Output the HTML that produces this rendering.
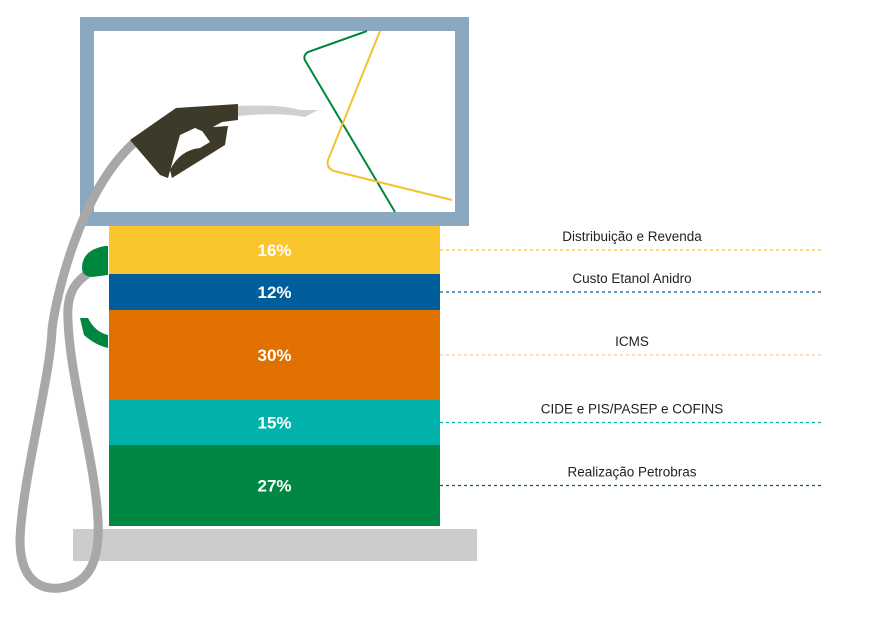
<!DOCTYPE html>
<html><head><meta charset="utf-8"><style>
body{margin:0;background:#fff;width:888px;height:624px;overflow:hidden;font-family:"Liberation Sans",sans-serif}
</style></head><body>
<svg width="888" height="624" viewBox="0 0 888 624" xmlns="http://www.w3.org/2000/svg">
<g>
<rect x="87" y="24" width="375" height="195" fill="#fff" stroke="#8aa8bf" stroke-width="14"/>
<path d="M367 31 L308 52 Q302 56 306 62 L395 212" fill="none" stroke="#00873f" stroke-width="2"/>
<path d="M380 31 L328 160 Q326 168 334 171 L452 200" fill="none" stroke="#f2c230" stroke-width="2"/>
<rect x="73" y="529" width="404" height="32" fill="#cccccc"/>
<path d="M135 142 C80 190 55 300 52 330 C50 380 22 480 20 540 C20 580 40 590 60 588 C90 584 100 560 98 520 C95 460 70 380 68 320 C66 290 78 280 90 272" fill="none" stroke="#a8a8a8" stroke-width="9"/>
<path d="M82 268 Q82 250 105 246 L108 246 L108 275 L92 277 Q82 276 82 268Z" fill="#00873f"/>
<path d="M80 318 L84 335 Q95 345 108 348 L108 335 Q95 332 88 318Z" fill="#00873f"/>
<path d="M238 106 Q280 104 300 110 L318 110 L305 117 Q280 112 238 116Z" fill="#d0d0d0"/>
<path d="M130 140 L176 108 L238 104 L238 120 L222 122 L204 132 L195 128 L180 135 L168 178 L160 175 Z M200 128 L228 126 L225 145 L172 178 L170 170 Q180 150 200 148 L210 142Z" fill="#3d3a2a"/>
</g>
<g id="bars"></g>
<g id="labels"></g>
</svg>
<script>
const categories=["Distribuição e Revenda","Custo Etanol Anidro","ICMS","CIDE e PIS/PASEP e COFINS","Realização Petrobras"];
const values=[16,12,30,15,27];
const colors=["#fbc52d","#005f9a","#e07000","#00b2a9","#008744"];
const lineColors=["#fbc52d","#005f9a","#f5c9a0","#00b2a9","#006e3a"];
const ns="http://www.w3.org/2000/svg";
const top0=226,pxPer=3,x0=109,w=331;
function yScale(v){return top0+v*pxPer;}
const bars=document.getElementById('bars'),labels=document.getElementById('labels');
let acc=0;
values.forEach((v,i)=>{
 const y=yScale(acc),h=v*pxPer;acc+=v;
 const r=document.createElementNS(ns,'rect');
 
 
 r.setAttribute('x',x0);r.setAttribute('y',y);r.setAttribute('width',w);r.setAttribute('height',h);r.setAttribute('fill',colors[i]);
 bars.appendChild(r);
 const cy=y+h/2;
 const t=document.createElementNS(ns,'text');
 
 
 t.setAttribute('x',x0+w/2);t.setAttribute('y',cy+6);t.setAttribute('text-anchor','middle');t.setAttribute('fill','#fff');t.setAttribute('font-size','17');t.setAttribute('font-weight','bold');
 t.textContent=v+'%';bars.appendChild(t);
 const l=document.createElementNS(ns,'line');
 
 
 l.setAttribute('x1',x0+w);l.setAttribute('x2',822);l.setAttribute('y1',cy);l.setAttribute('y2',cy);
 l.setAttribute('stroke',lineColors[i]);l.setAttribute('stroke-width','1.3');l.setAttribute('stroke-dasharray','3 3');
 labels.appendChild(l);
 const lt=document.createElementNS(ns,'text');
 
 
 lt.setAttribute('x',632);lt.setAttribute('y',cy-9);lt.setAttribute('text-anchor','middle');lt.setAttribute('fill','#222');lt.setAttribute('font-size','13.5');
 lt.textContent=categories[i];labels.appendChild(lt);
});
</script>
</body></html>
